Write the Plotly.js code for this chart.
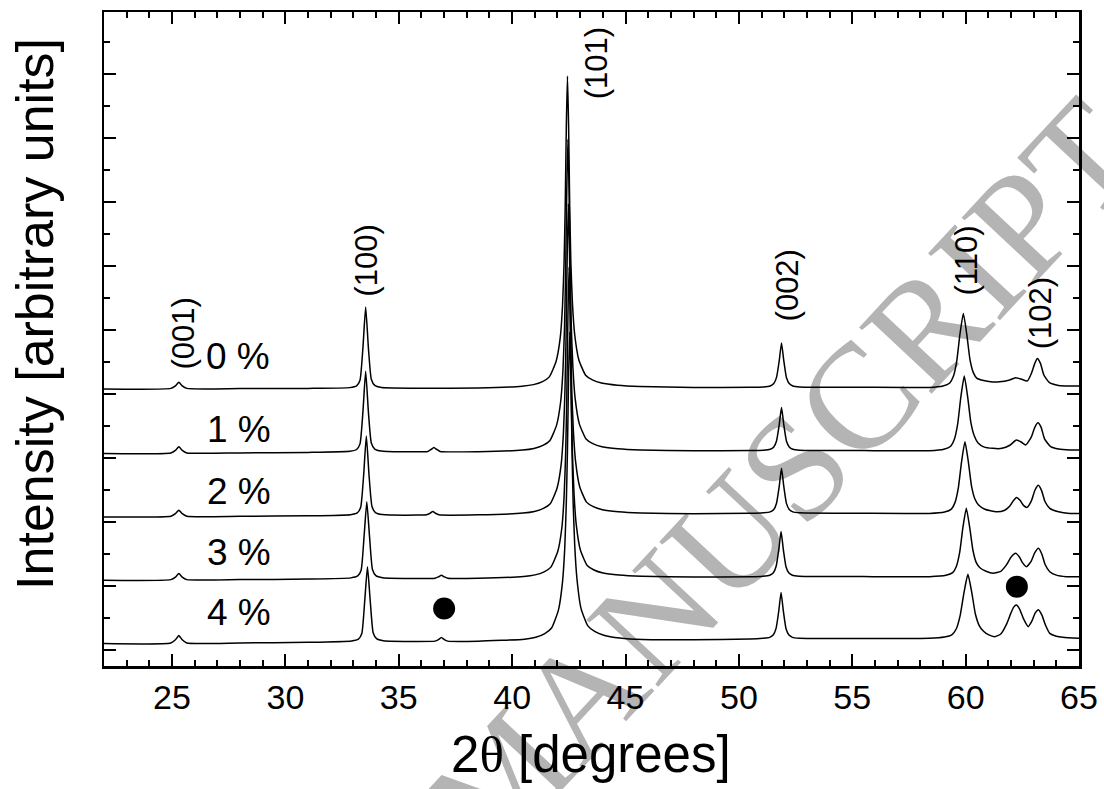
<!DOCTYPE html>
<html>
<head>
<meta charset="utf-8">
<script src="https://cdn.plot.ly/plotly-3.0.1.min.js"></script>
<style>html,body{margin:0;padding:0;background:#fff;}#chart{width:1104px;height:789px;}</style>
</head>
<body>
<div id="chart"></div>
<script>
// Sample names and vertical stacking offsets (arbitrary units)
const sampleNames = ['0 %', '1 %', '2 %', '3 %', '4 %'];
const offsets = [4, 3, 2, 1, 0];

// 0 %
const x0 = [22.0,24.95,25.15,25.3,25.45,25.65,28.0,31.0,32.84,33.14,33.29,33.42,33.54,33.66,33.79,33.94,34.24,36.0,38.5,40.44,40.94,41.34,41.64,41.94,42.12,42.22,42.29,42.34,42.39,42.44,42.49,42.54,42.59,42.66,42.76,42.94,43.24,43.54,43.94,44.64,45.64,48.0,50.5,51.08,51.38,51.54,51.66,51.78,51.88,51.98,52.1,52.22,52.38,52.68,55.5,58.4,59.0,59.3,59.46,59.61,59.75,59.9,60.05,60.19,60.34,60.5,60.8,61.1,61.5,61.9,62.2,62.45,62.72,62.9,63.05,63.16,63.3,63.45,63.7,64.1,64.6,65.0];
const y0 = [0.080,0.088,0.128,0.183,0.128,0.088,0.085,0.088,0.100,0.128,0.217,0.725,1.360,0.725,0.230,0.134,0.103,0.092,0.095,0.122,0.147,0.195,0.268,0.512,0.877,1.364,2.046,2.923,4.189,4.968,4.189,2.923,2.046,1.413,0.926,0.536,0.295,0.222,0.173,0.139,0.119,0.103,0.106,0.111,0.125,0.163,0.26,0.522,0.798,0.522,0.253,0.163,0.125,0.111,0.105,0.104,0.127,0.173,0.277,0.52,0.936,1.26,0.936,0.543,0.335,0.245,0.21,0.19,0.19,0.214,0.255,0.234,0.203,0.323,0.479,0.557,0.479,0.297,0.177,0.135,0.125,0.125];

// 1 %
const x1 = [22.0,24.95,25.15,25.3,25.45,25.65,28.0,31.0,32.84,33.14,33.29,33.42,33.54,33.66,33.79,33.94,34.24,35.8,36.28,36.43,36.55,36.67,36.82,38.5,40.46,40.96,41.36,41.66,41.96,42.14,42.24,42.31,42.36,42.41,42.46,42.51,42.56,42.61,42.68,42.78,42.96,43.26,43.56,43.96,44.66,45.66,48.0,50.5,51.08,51.38,51.54,51.66,51.78,51.88,51.98,52.1,52.22,52.38,52.68,55.5,58.4,59.04,59.34,59.5,59.65,59.79,59.94,60.09,60.23,60.38,60.54,60.8,61.2,61.6,61.95,62.24,62.45,62.65,62.9,63.05,63.19,63.33,63.48,63.75,64.1,64.6,65.0];
const y1 = [0.070,0.080,0.120,0.175,0.120,0.080,0.080,0.088,0.105,0.133,0.221,0.725,1.355,0.725,0.234,0.139,0.108,0.097,0.103,0.135,0.165,0.135,0.103,0.1,0.124,0.149,0.197,0.27,0.514,0.879,1.366,2.048,2.925,4.19,4.98,4.19,2.925,2.048,1.415,0.928,0.538,0.297,0.224,0.176,0.144,0.125,0.113,0.117,0.123,0.137,0.174,0.267,0.522,0.79,0.522,0.261,0.174,0.137,0.123,0.116,0.115,0.138,0.185,0.29,0.535,0.955,1.281,0.955,0.558,0.348,0.24,0.175,0.151,0.151,0.2,0.281,0.25,0.203,0.33,0.48,0.552,0.48,0.3,0.177,0.14,0.125,0.125];

// 2 %
const x2 = [22.0,24.95,25.15,25.3,25.45,25.65,28.0,31.0,32.87,33.17,33.32,33.45,33.57,33.69,33.82,33.97,34.27,35.8,36.23,36.38,36.5,36.62,36.77,38.5,40.48,40.98,41.38,41.68,41.98,42.16,42.26,42.33,42.38,42.43,42.48,42.53,42.58,42.63,42.7,42.8,42.98,43.28,43.58,43.98,44.68,45.68,48.0,50.5,51.08,51.38,51.54,51.66,51.78,51.88,51.98,52.1,52.22,52.38,52.68,55.5,58.4,59.07,59.37,59.53,59.68,59.82,59.97,60.12,60.26,60.41,60.57,60.85,61.35,61.7,61.95,62.1,62.24,62.4,62.55,62.71,62.9,63.06,63.21,63.35,63.5,63.71,64.1,64.6,65.0];
const y2 = [0.080,0.090,0.130,0.185,0.130,0.090,0.090,0.098,0.115,0.142,0.229,0.725,1.345,0.725,0.241,0.148,0.117,0.108,0.113,0.137,0.165,0.137,0.113,0.113,0.139,0.164,0.212,0.285,0.528,0.893,1.379,2.059,2.934,4.197,4.975,4.197,2.934,2.059,1.427,0.941,0.552,0.311,0.24,0.193,0.161,0.142,0.13,0.136,0.144,0.158,0.196,0.294,0.56,0.84,0.56,0.287,0.196,0.158,0.144,0.136,0.135,0.157,0.202,0.303,0.538,0.941,1.255,0.941,0.561,0.359,0.265,0.2,0.161,0.18,0.25,0.33,0.385,0.34,0.26,0.229,0.33,0.5,0.573,0.49,0.32,0.214,0.16,0.135,0.135];

// 3 %
const x3 = [22.0,24.95,25.15,25.3,25.45,25.65,28.0,31.0,32.89,33.19,33.34,33.47,33.59,33.71,33.84,33.99,34.29,35.8,36.6,36.75,36.88,37.01,37.16,38.5,40.51,41.01,41.41,41.71,42.01,42.19,42.29,42.36,42.41,42.46,42.51,42.56,42.61,42.66,42.73,42.83,43.01,43.31,43.61,44.01,44.71,45.71,48.0,50.5,51.06,51.36,51.52,51.64,51.76,51.86,51.96,52.08,52.2,52.36,52.66,55.5,58.4,59.13,59.43,59.59,59.74,59.88,60.03,60.18,60.32,60.47,60.63,60.9,61.21,61.55,61.8,62.0,62.21,62.38,62.5,62.68,62.88,63.05,63.21,63.36,63.5,63.71,64.0,64.44,65.0];
const y3 = [0.090,0.100,0.140,0.195,0.140,0.100,0.100,0.108,0.127,0.157,0.247,0.775,1.315,0.775,0.259,0.163,0.129,0.118,0.123,0.142,0.168,0.142,0.123,0.122,0.149,0.174,0.222,0.295,0.538,0.903,1.389,2.069,2.944,4.207,4.985,4.207,2.944,2.069,1.437,0.951,0.562,0.321,0.25,0.203,0.171,0.152,0.14,0.146,0.154,0.168,0.206,0.304,0.57,0.85,0.57,0.297,0.206,0.168,0.154,0.147,0.146,0.167,0.21,0.306,0.53,0.915,1.214,0.915,0.563,0.366,0.286,0.23,0.198,0.23,0.33,0.45,0.51,0.45,0.37,0.302,0.38,0.52,0.589,0.5,0.34,0.224,0.17,0.146,0.146];

// 4 %
const x4 = [22.0,24.95,25.15,25.3,25.45,25.65,28.0,31.0,32.92,33.22,33.37,33.5,33.62,33.74,33.87,34.02,34.32,35.8,36.6,36.75,36.88,37.01,37.16,38.5,40.54,41.04,41.44,41.74,42.04,42.22,42.32,42.39,42.44,42.49,42.54,42.59,42.64,42.69,42.76,42.86,43.04,43.34,43.64,44.04,44.74,45.74,48.0,50.5,51.06,51.36,51.52,51.64,51.76,51.86,51.96,52.08,52.2,52.36,52.66,55.5,58.4,59.06,59.4,59.59,59.76,59.93,60.1,60.27,60.43,60.6,60.79,61.0,61.28,61.55,61.8,62.0,62.12,62.24,62.38,62.55,62.76,62.92,63.07,63.21,63.36,63.52,63.71,64.0,64.29,65.0];
const y4 = [0.100,0.110,0.160,0.225,0.160,0.110,0.110,0.120,0.142,0.171,0.259,0.774,1.30,0.774,0.27,0.177,0.144,0.133,0.139,0.162,0.195,0.162,0.139,0.137,0.169,0.198,0.256,0.343,0.623,1.058,1.589,2.314,3.135,4.294,4.97,4.294,3.135,2.314,1.637,1.106,0.647,0.377,0.29,0.232,0.188,0.164,0.162,0.172,0.184,0.198,0.238,0.338,0.612,0.9,0.612,0.331,0.238,0.198,0.184,0.18,0.182,0.202,0.242,0.332,0.542,0.902,1.182,0.902,0.562,0.382,0.292,0.24,0.208,0.25,0.4,0.58,0.67,0.703,0.64,0.49,0.365,0.45,0.58,0.63,0.55,0.39,0.26,0.215,0.198,0.182];

// Reflection labels (hkl) and where they are written
const hklText = ['(001)', '(100)', '(101)', '(002)', '(110)', '(102)'];
const hklX = [25.5, 33.57, 43.7, 52.13, 60.03, 63.3];
const hklY = [4.95, 6.09, 9.17, 5.70, 6.09, 5.27];

// Sample label positions
const nameX = [27.9, 27.95, 27.95, 27.95, 27.95];
const nameY = [4.59, 3.44, 2.47, 1.53, 0.58];

// Secondary-phase markers
const dotX = [37.0, 62.26];
const dotY = [0.65, 0.99];

const xs = [x0, x1, x2, x3, x4];
const ys = [y0, y1, y2, y3, y4];

const traces = xs.map((xa, i) => ({
  x: xa,
  y: ys[i].map(v => v + offsets[i]),
  type: 'scatter',
  mode: 'lines',
  line: {color: 'black', width: 1.5, shape: 'spline', smoothing: 0.5},
  name: sampleNames[i],
  hoverinfo: 'skip'
}));

traces.push({
  x: dotX, y: dotY, type: 'scatter', mode: 'markers',
  marker: {color: 'black', size: 22}, hoverinfo: 'skip'
});

const FONT = 'Liberation Sans, Arial, Helvetica, sans-serif';

const annotations = [];
hklText.forEach((t, i) => annotations.push({
  x: hklX[i], y: hklY[i], xref: 'x', yref: 'y', text: t, showarrow: false,
  textangle: -90, xanchor: 'center', yanchor: 'middle',
  font: {family: FONT, size: 31, color: 'black'}
}));
sampleNames.forEach((t, i) => annotations.push({
  x: nameX[i], y: nameY[i], xref: 'x', yref: 'y', text: t, showarrow: false,
  xanchor: 'center', yanchor: 'middle',
  font: {family: FONT, size: 37, color: 'black'}
}));
// axis titles
annotations.push({
  x: 0.499, y: -0.136, xref: 'paper', yref: 'paper', showarrow: false,
  xanchor: 'center', yanchor: 'middle',
  text: '2<span style="font-family:Liberation Serif">θ</span> [degrees]',
  font: {family: FONT, size: 51, color: 'black'}
});
annotations.push({
  x: -0.071, y: 0.538, xref: 'paper', yref: 'paper', showarrow: false,
  xanchor: 'center', yanchor: 'middle', textangle: -90,
  text: 'Intensity [arbitrary units]',
  font: {family: FONT, size: 52, color: 'black'}
});

const layout = {
  width: 1104, height: 789,
  margin: {l: 104, r: 25, t: 12, b: 123},
  paper_bgcolor: 'white', plot_bgcolor: 'rgba(0,0,0,0)',
  showlegend: false,
  font: {family: FONT, color: 'black'},
  xaxis: {
    range: [22, 65], tick0: 0, dtick: 5,
    ticks: 'inside', ticklen: 12, tickwidth: 2, tickcolor: 'black',
    minor: {dtick: 1, ticks: 'inside', ticklen: 6, tickwidth: 2, tickcolor: 'black'},
    showline: true, linewidth: 2.5, linecolor: 'black', mirror: 'ticks',
    showgrid: false, zeroline: false,
    tickfont: {family: FONT, size: 34, color: 'black'}
  },
  yaxis: {
    range: [-0.25, 9.97], tick0: 0, dtick: 1,
    ticks: 'inside', ticklen: 12, tickwidth: 2, tickcolor: 'black',
    minor: {dtick: 0.5, ticks: 'inside', ticklen: 6, tickwidth: 2, tickcolor: 'black'},
    showline: true, linewidth: 2.5, linecolor: 'black', mirror: 'ticks',
    showgrid: false, zeroline: false, showticklabels: false
  },
  annotations: annotations,
  shapes: [{
    type: 'rect', xref: 'paper', yref: 'paper',
    x0: 0.38, x1: 0.42, y0: -0.171, y1: -0.131,
    line: {width: 0}, fillcolor: 'rgba(0,0,0,0)', layer: 'below',
    label: {
      text: 'ACCEPTED MANUSCRIPT', textangle: -47, textposition: 'middle center',
      font: {family: 'Liberation Serif, Times New Roman, serif', size: 150, color: '#b4b4b4'}
    }
  }]
};

Plotly.newPlot('chart', traces, layout, {displayModeBar: false, staticPlot: true});
</script>
</body>
</html>
